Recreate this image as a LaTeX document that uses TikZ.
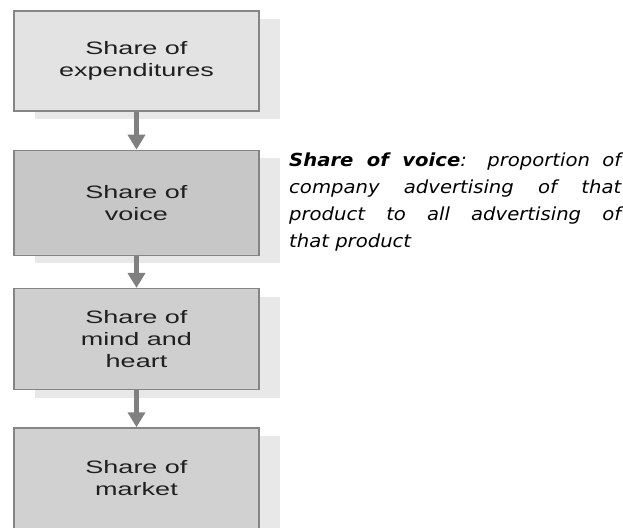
\documentclass[tikz,border=0pt]{standalone}
\usepackage{fontspec}
\setmainfont{Liberation Sans}[FakeStretch=1.5]
\newfontfamily\notefont{DejaVu Sans}[FakeStretch=1.09]
\usetikzlibrary{positioning,arrows.meta,shadows}

\begin{document}
\begin{tikzpicture}[x=1pt, y=1pt, font=\fontsize{18}{22}\selectfont,
  stage/.style={draw=black!48, line width=1.3pt, minimum width=245pt, minimum height=100pt,
    align=center, inner sep=0pt, text=black!88,
    drop shadow={shadow xshift=21pt, shadow yshift=-8pt, fill=black!9, opacity=1}},
  flow/.style={-{Triangle[length=15pt, width=17pt]}, draw=black!50, line width=5pt},
  note/.style={font=\notefont\itshape\fontsize{18}{27}\selectfont, text width=332pt,
    align=justify, inner sep=0pt, anchor=north west}]
\useasboundingbox (0,0) rectangle (623,-527);
% the four stages, top to bottom
\node[stage, fill=black!11] (exp) at (136.5,-61) {Share of\\expenditures};
\node[stage, fill=black!22, minimum height=105pt, below=38pt of exp] (voice) {Share of\\voice};
\node[stage, fill=black!19, minimum height=101pt, below=32pt of voice] (mind) {Share of\\mind and\\heart};
\node[stage, fill=black!18, minimum height=101pt, below=37pt of mind] (market) {Share of\\market};
\foreach \u/\v in {exp/voice, voice/mind, mind/market} \draw[flow] (\u) -- (\v);
% definition beside the second stage
\node[note] (def) at (289,-153) {{\bfseries Share of voice}: proportion of\linebreak
  company advertising of that\linebreak product to all advertising of\linebreak that product};
\end{tikzpicture}
\end{document}
